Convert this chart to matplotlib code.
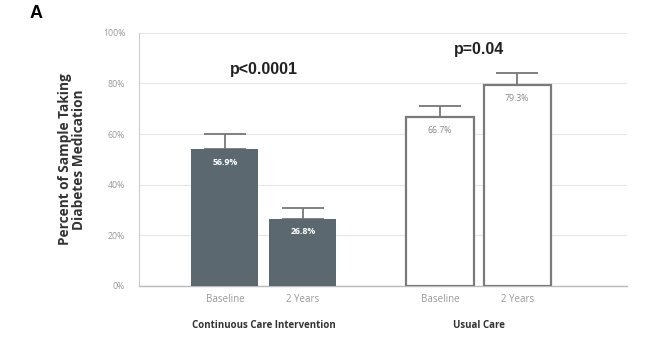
import matplotlib
matplotlib.use("Agg")
import matplotlib.pyplot as plt
import numpy as np

# values
categories = ["Baseline", "2 Years", "Baseline", "2 Years"]
groups = ["Continuous Care Intervention", "Usual Care"]
bar_heights = [54.2, 26.6, 66.7, 79.3]
bar_labels = ["56.9%", "26.8%", "66.7%", "79.3%"]
err_top = [60.1, 30.8, 71.1, 84.2]
p_values = ["p<0.0001", "p=0.04"]

x = np.array([0, 1, 2.76, 3.75])
dark = "#5c6870"

fig = plt.figure(figsize=(6.56, 3.61), dpi=100)
ax = fig.add_axes([0.212, 0.208, 0.744, 0.701])

ax.set_ylim(0, 100)
ax.set_xlim(-1.10, 5.16)
ax.set_yticks(np.arange(0, 101, 20))
ax.set_yticklabels([f"{v}%" for v in range(0, 101, 20)], fontsize=6.3, color="#999999", family="Open Sans")
ax.yaxis.grid(True, color="#e6e6e6", lw=0.8)
ax.set_axisbelow(True)
ax.tick_params(axis="y", length=0, pad=10)
ax.tick_params(axis="x", length=0, pad=6)

for s in ["top", "right"]:
    ax.spines[s].set_visible(False)
ax.spines["left"].set_color("#cccccc")
ax.spines["bottom"].set_color("#bbbbbb")
ax.spines["bottom"].set_linewidth(1.0)

# error bars (upper only)
yerr = [np.zeros(4), np.array(err_top) - np.array(bar_heights)]
ax.errorbar(x, bar_heights, yerr=yerr, fmt="none", ecolor="#777777",
            elinewidth=1.3, capsize=15, capthick=1.3, zorder=2)

ax.bar(x[:2], bar_heights[:2], width=0.86, color=dark, zorder=3)
ax.bar(x[2:], bar_heights[2:], width=0.86, facecolor="white",
       edgecolor="#7a7a7a", linewidth=1.6, zorder=3)

for i in range(4):
    c = "white" if i < 2 else "#8a8a8a"
    ax.text(x[i], bar_heights[i] - 3.5, bar_labels[i], ha="center", va="top",
            fontsize=6.3, color=c, family="Open Sans", fontweight="bold" if i < 2 else "normal", zorder=4)

ax.set_xticks(x)
ax.set_xticklabels(categories, fontsize=7, color="#999999", family="Open Sans")

# group labels
for k, g in enumerate(groups):
    cx = (x[2 * k] + x[2 * k + 1]) / 2
    ax.text(cx, -15.8, g, ha="center", va="center", fontsize=7, fontweight="bold",
            color="#333333", family="Open Sans")

# p values
ax.text((x[0] + x[1]) / 2, 85.5, p_values[0], ha="center", va="center",
        fontsize=11.5, fontweight="bold", color="#222222", family="Liberation Sans")
ax.text((x[2] + x[3]) / 2, 93.5, p_values[1], ha="center", va="center",
        fontsize=11.5, fontweight="bold", color="#222222", family="Liberation Sans")

ax.set_ylabel("Percent of Sample Taking\nDiabetes Medication", fontsize=9.8,
              fontweight="bold", color="#333333", family="Open Sans", labelpad=12, linespacing=1.0)

fig.text(0.045, 0.985, "A", fontsize=13, fontweight="bold", va="top", family="Liberation Sans")

fig.savefig("out.png", dpi=100)
